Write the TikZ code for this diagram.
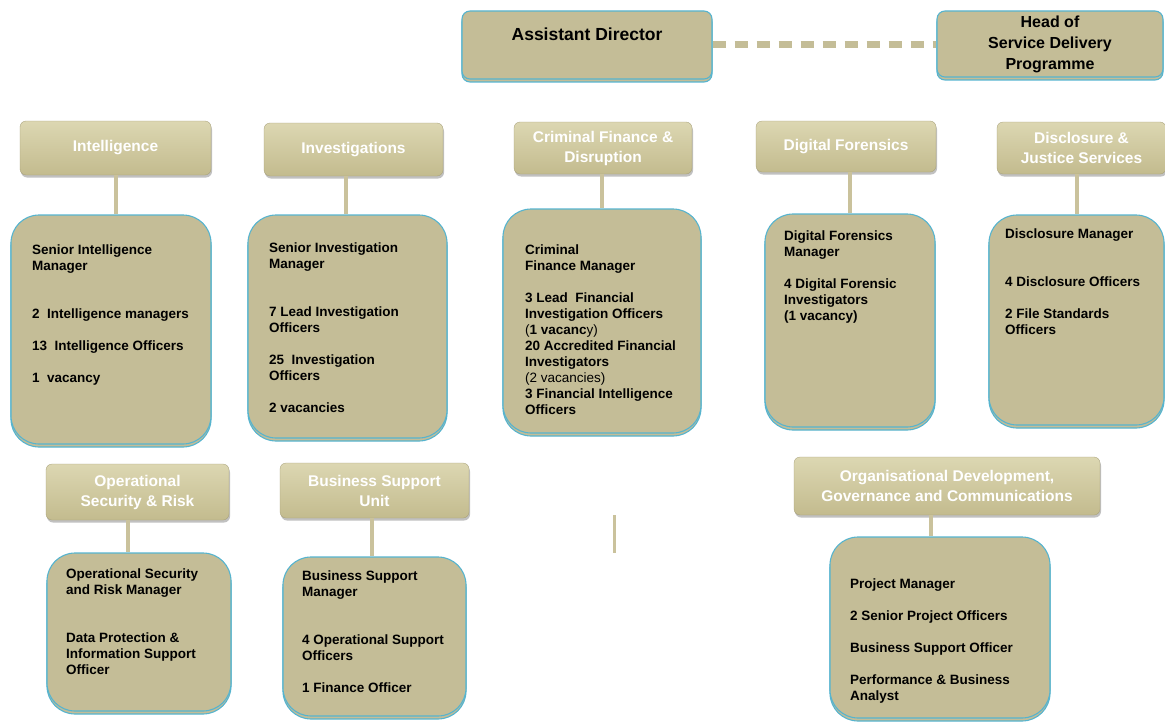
\documentclass[tikz,border=0pt]{standalone}
\usepackage{fontspec}
\setmainfont{Liberation Sans}
\usetikzlibrary{shadows}
\definecolor{tanfill}{HTML}{C4BD97}
\definecolor{bluebord}{HTML}{56B4CF}
\definecolor{headtop}{HTML}{DCD7B2}
\definecolor{headbot}{HTML}{C3BB8E}
\definecolor{linetan}{HTML}{CAC29C}
\begin{document}
\begin{tikzpicture}[x=1pt,y=-1pt,
  topbox/.style={draw=bluebord, line width=1.1pt, fill=tanfill, rounded corners=8pt,
    copy shadow={shadow xshift=0pt, shadow yshift=-3pt}},
  detailbox/.style={draw=bluebord, line width=1.1pt, fill=tanfill, rounded corners=28pt,
    copy shadow={shadow xshift=0pt, shadow yshift=-3pt}},
  headbox/.style={rounded corners=6pt, top color=headtop, bottom color=headbot,
    draw=headbot!85!black, line width=0.3pt,
    drop shadow={shadow xshift=1pt, shadow yshift=-2.5pt, opacity=0.35, fill=black!70},
    text=white, font=\fontsize{15.5}{20}\selectfont\bfseries, align=center, inner sep=0pt},
  detailtext/.style={anchor=north west, inner sep=0pt, align=left,
    font=\fontsize{13.5}{16}\selectfont\bfseries, text=black},
  conn/.style={draw=linetan, line width=4pt},
  dashconn/.style={draw=tanfill, line width=7pt, dash pattern=on 13pt off 9pt}
]
\useasboundingbox (0,0) rectangle (1165,725);

% top level
\node[topbox, minimum width=250, minimum height=68] (ad) at (587,45) {};
\node[font=\fontsize{17.5}{20}\selectfont\bfseries, inner sep=0pt] (adtext) at (587,34) {Assistant Director};
\node[topbox, minimum width=226, minimum height=66, align=center,
  font=\fontsize{16}{21}\selectfont\bfseries, inner sep=0pt] (hos) at (1050,44)
  {Head of\\Service Delivery\\Programme};
\draw[dashconn] (ad.east) -- (ad.east -| hos.west);

% headers
\node[headbox, minimum width=191, minimum height=54] (inth) at (115.5,148) {Intelligence};
\node[headbox, minimum width=179, minimum height=53] (invh) at (353.5,149.5) {Investigations};
\node[headbox, minimum width=178, minimum height=52] (cfdh) at (603,148) {Criminal Finance \&\\Disruption};
\node[headbox, minimum width=180, minimum height=51] (dfh) at (846,146.5) {Digital Forensics};
\node[headbox, minimum width=169, minimum height=52] (dish) at (1081.5,148) {Disclosure \&\\Justice Services};
\node[headbox, minimum width=183, minimum height=56] (osrh) at (137.5,492) {Operational\\Security \& Risk};
\node[headbox, minimum width=189, minimum height=55] (bsuh) at (374.5,490.5) {Business Support\\Unit};
\node[headbox, minimum width=306, minimum height=58] (orgh) at (947,486) {Organisational Development,\\Governance and Communications};

% detail boxes
\node[detailbox, minimum width=200, minimum height=229] (intb) at (111,329.5) {};
\node[detailbox, minimum width=199, minimum height=223] (invb) at (347.5,326.5) {};
\node[detailbox, minimum width=198, minimum height=224] (cfdb) at (602,321) {};
\node[detailbox, minimum width=170, minimum height=213] (dfb) at (850,320.5) {};
\node[detailbox, minimum width=175, minimum height=210] (disb) at (1076.5,320) {};
\node[detailbox, minimum width=184, minimum height=158] (osrb) at (139,632) {};
\node[detailbox, minimum width=183, minimum height=159] (bsub) at (374.5,636.5) {};
\node[detailbox, minimum width=220, minimum height=181] (orgb) at (940,627.5) {};

% connectors
\draw[conn] (inth.south -| 116,0) -- (intb.north -| 116,0);
\draw[conn] (invh.south -| 346,0) -- (invb.north -| 346,0);
\draw[conn] (cfdh.south -| 602,0) -- (cfdb.north -| 602,0);
\draw[conn] (dfh.south -| 850,0) -- (dfb.north -| 850,0);
\draw[conn] (dish.south -| 1077,0) -- (disb.north -| 1077,0);
\draw[conn] (osrh.south -| 128,0) -- (osrb.north -| 128,0);
\draw[conn] (bsuh.south -| 372,0) -- (bsub.north -| 372,0);
\draw[conn] (orgh.south -| 931,0) -- (orgb.north -| 931,0);
\coordinate (stray1) at (614,515);
\coordinate (stray2) at (614,553);
\draw[conn, line width=3pt] (stray1) -- (stray2);

% texts
\node[detailtext] (intt) at (32,245)
  {Senior Intelligence\\Manager\\[32pt]2~~Intelligence managers\\[16pt]13~~Intelligence Officers\\[16pt]1~~vacancy};
\node[detailtext] (invt) at (269,243)
  {Senior Investigation\\Manager\\[32pt]7 Lead Investigation\\Officers\\[16pt]25~~Investigation\\Officers\\[16pt]2 vacancies};
\node[detailtext] (cfdt) at (525,245)
  {Criminal\\Finance Manager\\[16pt]3 Lead~ Financial\\Investigation Officers\\{\mdseries(}1 vacanc{\mdseries y)}\\20 Accredited Financial\\Investigators\\{\mdseries(2 vacancies)}\\3 Financial Intelligence\\Officers};
\node[detailtext] (dft) at (784,231)
  {Digital Forensics\\Manager\\[16pt]4 Digital Forensic\\Investigators\\(1 vacancy)};
\node[detailtext] (dist) at (1005,229)
  {Disclosure Manager\\[32pt]4 Disclosure Officers\\[16pt]2 File Standards\\Officers};
\node[detailtext] (osrt) at (66,569)
  {Operational Security\\and Risk Manager\\[32pt]Data Protection \&\\Information Support\\Officer};
\node[detailtext] (bsut) at (302,571)
  {Business Support\\Manager\\[32pt]4 Operational Support\\Officers\\[16pt]1 Finance Officer};
\node[detailtext] (orgt) at (850,579)
  {Project Manager\\[16pt]2 Senior Project Officers\\[16pt]Business Support Officer\\[16pt]Performance \& Business\\Analyst};
\end{tikzpicture}
\end{document}
